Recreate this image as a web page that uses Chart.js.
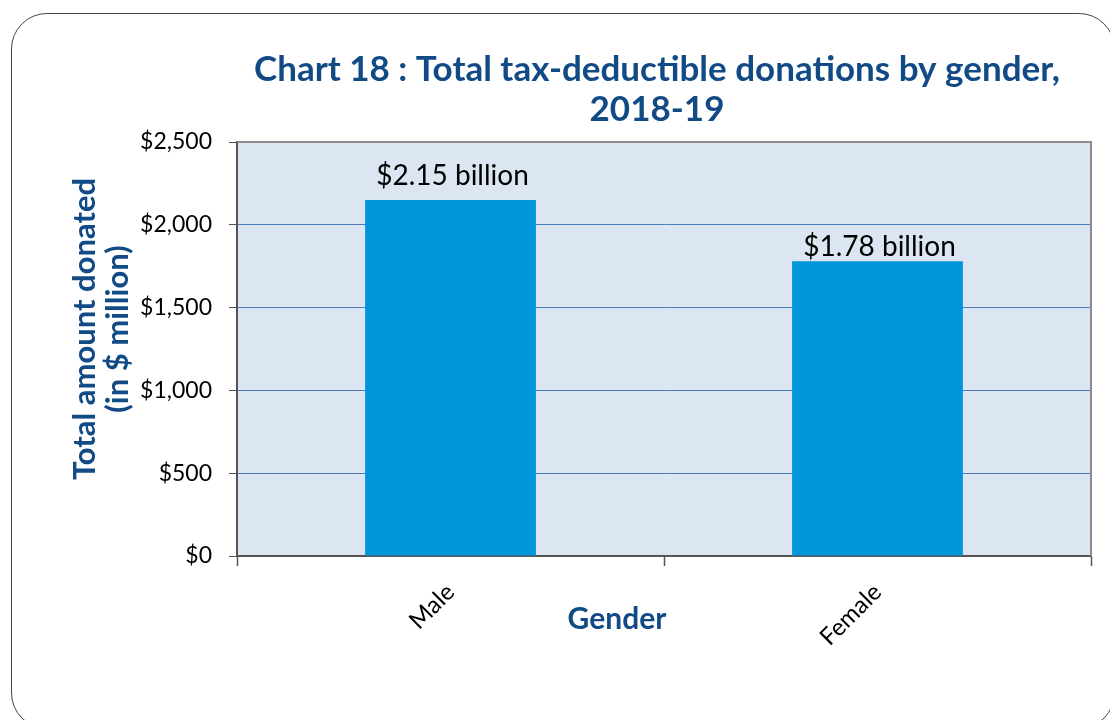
<!DOCTYPE html>
<html>
<head>
<meta charset="utf-8">
<title>Total tax-deductible donations by gender, 2018-19</title>
<script src="https://cdn.jsdelivr.net/npm/chart.js@4"></script>
<style>
  html, body { margin: 0; padding: 0; background: #fff; overflow: hidden; }
  #frame {
    position: absolute; left: 11px; top: 13px; width: 1102px; height: 714px;
    border: 1.5px solid #444; border-radius: 36px;
  }
  #chart { position: absolute; left: 0; top: 0; }
</style>
</head>
<body>
<div id="frame"></div>
<canvas id="chart" width="1110" height="720"></canvas>
<script>
var categories = ['Male', 'Female'];
var donated = [2150, 1780];            // $ million
var yTicks = [0, 500, 1000, 1500, 2000, 2500];
var titleLines = ['Chart 18 : Total tax-deductible donations by gender,', '2018-19'];
var yTitleLines = ['Total amount donated', '(in $ million)'];
var xTitle = 'Gender';

var navy = '#114a85';
var font = 'Lato, "Open Sans", sans-serif';

function billions(v) {
    return '$' + (v / 1000).toFixed(2) + ' billion';
}

// shaded plot area + grey frame on top/right
var plotArea = {
    id: 'plotArea',
    beforeDraw: function (chart) {
        var a = chart.chartArea, ctx = chart.ctx;
        ctx.save();
        ctx.fillStyle = '#dce6f2';
        ctx.fillRect(a.left, a.top, a.right - a.left, a.bottom - a.top);
        ctx.restore();
    },
    afterDraw: function (chart) {
        var a = chart.chartArea, ctx = chart.ctx;
        ctx.save();
        ctx.strokeStyle = '#8c8c8c';
        ctx.lineWidth = 2;
        ctx.beginPath();
        ctx.moveTo(a.left, a.top);
        ctx.lineTo(a.right, a.top);
        ctx.lineTo(a.right, a.bottom);
        ctx.stroke();
        ctx.restore();
    }
};

// value labels above bars (the male one sits a little higher)
var barLabels = {
    id: 'barLabels',
    afterDatasetsDraw: function (chart) {
        var ctx = chart.ctx;
        var meta = chart.getDatasetMeta(0);
        var lift = [15, 5];
        ctx.save();
        ctx.font = '28px ' + font;
        ctx.fillStyle = '#000';
        ctx.textAlign = 'center';
        ctx.textBaseline = 'alphabetic';
        meta.data.forEach(function (bar, i) {
            ctx.fillText(billions(donated[i]), bar.x + 2, bar.y - lift[i]);
        });
        ctx.restore();
    }
};

// chart title and axis titles
var titles = {
    id: 'titles',
    afterDraw: function (chart) {
        var ctx = chart.ctx;
        ctx.save();
        ctx.fillStyle = navy;
        ctx.textAlign = 'center';
        ctx.textBaseline = 'middle';
        ctx.font = 'bold 35px ' + font;
        titleLines.forEach(function (t, i) {
            ctx.fillText(t, 657, 70 + i * 40);
        });
        ctx.font = 'bold 30px ' + font;
        ctx.fillText(xTitle, 617, 619);
        ctx.font = 'bold 31px ' + font;
        ctx.translate(85, 329);
        ctx.rotate(-Math.PI / 2);
        yTitleLines.forEach(function (t, i) {
            ctx.fillText(t, 0, i * 33);
        });
        ctx.restore();
    }
};

new Chart(document.getElementById('chart'), {
    type: 'bar',
    data: {
        labels: categories,
        datasets: [{
            data: donated,
            backgroundColor: '#0096db',
            borderWidth: 0,
            barPercentage: 0.4,
            categoryPercentage: 1
        }]
    },
    options: {
        responsive: false,
        devicePixelRatio: 1,
        animation: false,
        layout: { padding: { left: 60, right: 19, top: 142, bottom: 0 } },
        plugins: {
            legend: { display: false },
            tooltip: { enabled: false },
            title: { display: false }
        },
        scales: {
            x: {
                afterFit: function (s) { s.height = 164; },
                grid: {
                    drawOnChartArea: false,
                    tickLength: 10,
                    tickColor: '#555',
                    tickWidth: 1.5
                },
                border: { color: '#555', width: 2 },
                ticks: {
                    minRotation: 45,
                    maxRotation: 45,
                    padding: 12,
                    color: '#000',
                    font: { family: font, size: 24 }
                }
            },
            y: {
                min: 0,
                max: 2500,
                afterFit: function (s) { s.width = 177; },
                afterBuildTicks: function (s) {
                    s.ticks = yTicks.map(function (v) { return { value: v }; });
                },
                grid: {
                    color: '#4a7ebb',
                    lineWidth: 1,
                    tickLength: 8,
                    tickColor: '#555'
                },
                border: { color: '#555', width: 2 },
                ticks: {
                    padding: 17,
                    color: '#000',
                    font: { family: font, size: 23 },
                    callback: function (v) { return '$' + v.toLocaleString('en-US'); }
                }
            }
        }
    },
    plugins: [plotArea, barLabels, titles]
});
</script>
</body>
</html>
